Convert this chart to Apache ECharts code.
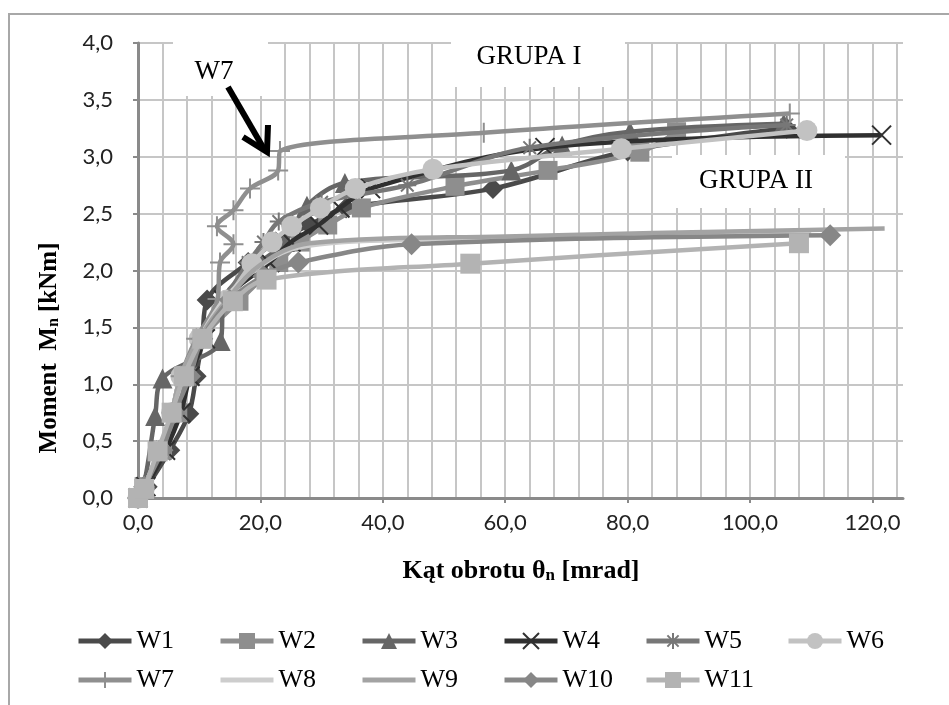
<!DOCTYPE html>
<html>
<head>
<meta charset="utf-8">
<script src="https://cdn.jsdelivr.net/npm/echarts@6/dist/echarts.min.js"></script>
<style>
html,body{margin:0;padding:0;background:#fff;}
#c{width:949px;height:705px;}
</style>
</head>
<body>
<div id="c"></div>
<script>
// ---- data (rotation angle [mrad], moment [kNm]) ----
const xTickLabels = [0, 20, 40, 60, 80, 100, 120];
const W1 = [[0,0],[1.5,0.1],[5.2,0.42],[8.3,0.74],[9.5,1.07],[10.5,1.4],[11.3,1.74],[18,2.07],[22.5,2.25],[28,2.4],[34,2.55],[58,2.72],[80,3.05],[106,3.25]];
const W2 = [[0,0],[1,0.1],[4,0.42],[6.5,0.75],[8,1.07],[10.5,1.4],[16.5,1.73],[23,2.07],[26.5,2.25],[31,2.4],[36.5,2.55],[51.8,2.74],[67,2.88],[82,3.04],[88,3.22]];
const W3 = [[0,0],[1,0.12],[2.8,0.72],[4,1.05],[13.5,1.38],[14,1.74],[20,2.07],[24,2.25],[27.6,2.57],[33.8,2.77],[61,2.88],[69.3,3.1],[80.4,3.22],[105.5,3.29]];
const W4 = [[0,0],[1.3,0.1],[4.5,0.42],[7,0.75],[8.5,1.07],[11,1.4],[14,1.74],[21.5,2.07],[25,2.25],[29.5,2.4],[33,2.55],[38,2.72],[66.5,3.08],[121.5,3.19]];
const W5 = [[0,0],[1,0.1],[3.5,0.42],[5.5,0.75],[7,1.07],[10,1.4],[14,1.74],[18,2.07],[20.5,2.25],[23,2.43],[30,2.6],[44,2.75],[64,3.08],[106,3.28]];
const W6 = [[0,0],[1,0.08],[3.5,0.42],[5.5,0.75],[7,1.07],[10,1.4],[14.5,1.74],[18.6,2.06],[21.9,2.25],[25.1,2.39],[29.8,2.55],[35.5,2.72],[48.2,2.89],[79,3.07],[109.3,3.23]];
const W7 = [[0,0],[1,0.1],[3.5,0.42],[5.5,0.75],[7,1.07],[9.5,1.4],[13,1.75],[13.4,2.07],[15.6,2.23],[12.9,2.39],[15.6,2.53],[18.3,2.72],[22.9,2.88],[23.2,3.05],[56.5,3.21],[106.5,3.38]];
const W8 = [[0,0],[1,0.1],[3.5,0.42],[5.5,0.75],[7,1.07],[10,1.4],[14,1.74],[19,2.0],[26,2.2],[45,2.27],[110,2.33]];
const W9 = [[0,0],[1,0.1],[3.5,0.42],[5.5,0.75],[7,1.07],[10,1.4],[14.5,1.74],[20,2.05],[28,2.24],[60,2.3],[122,2.37]];
const W10 = [[0,0],[1,0.1],[4,0.42],[6,0.75],[8.5,1.07],[10.5,1.4],[15,1.74],[20.5,1.95],[26.2,2.07],[44.7,2.23],[113.1,2.31]];
const W11 = [[0,0],[1,0.08],[3.2,0.41],[5.5,0.75],[7.5,1.07],[10.5,1.4],[15.5,1.73],[21,1.92],[54.3,2.06],[108,2.24]];

const seriesNames = ['W1','W2','W3','W4','W5','W6','W7','W8','W9','W10','W11'];
const seriesData = [W1,W2,W3,W4,W5,W6,W7,W8,W9,W10,W11];

// ---- styles ----
const colors = ['#4a4a4a','#8e8e8e','#666666','#303030','#777777','#c2c2c2','#8f8f8f','#cdcdcd','#a3a3a3','#878787','#b3b3b3'];
const SYM_X = 'path://M0,0L10,10M10,0L0,10';
const SYM_STAR = 'path://M0,5L10,5M5,0L5,10M1.5,1.5L8.5,8.5M8.5,1.5L1.5,8.5';
const SYM_PLUS = 'path://M0,5L10,5M5,0L5,10';
const symbols = ['diamond','rect','triangle',SYM_X,SYM_STAR,'circle',SYM_PLUS,'circle','circle','diamond','rect'];
const hasMarker = [true,true,true,true,true,true,true,false,false,true,true];
const symSizes = [21,19,20,19,18,21,20,0,0,22,20];

const comma = v => v.toFixed(1).replace('.', ',');
const serif = 'Liberation Serif';

const chart = echarts.init(document.getElementById('c'), null, {renderer:'canvas'});

const series = seriesNames.map((n,i) => {
  const stroke = symbols[i].indexOf('path://') === 0;
  return {
    name: n, type: 'line', xAxisIndex: 0, yAxisIndex: 0,
    data: seriesData[i], smooth: 0.35,
    symbol: symbols[i], symbolSize: symSizes[i], showSymbol: hasMarker[i],
    lineStyle: {width: 4.5, color: colors[i]},
    itemStyle: stroke ? {color: colors[i], borderColor: colors[i], borderWidth: 2} : {color: colors[i]},
    emphasis: {disabled: true},
    z: 3 + i
  };
});

const legends = seriesNames.map((n,i) => {
  const row = i < 6 ? 0 : 1;
  const col = i < 6 ? i : i - 6;
  return {
    left: 71 + col * 142, top: row === 0 ? 623 : 662,
    itemWidth: 53, itemHeight: 20, itemGap: 0,
    textStyle: {fontFamily: serif, fontSize: 26, color: '#000'},
    lineStyle: {width: 5},
    selectedMode: false,
    data: [hasMarker[i] ? {name: n} : {name: n, itemStyle: {opacity: 0}}]
  };
});

const option = {
  animation: false,
  backgroundColor: '#fff',
  grid: [
    {left: 138, right: 46, top: 43, bottom: 207, containLabel: false},
    {left: 138, right: 52.1, top: 43, bottom: 207, containLabel: false}
  ],
  xAxis: [
    {
      type: 'value', gridIndex: 0, min: 0, max: 125, interval: 20,
      axisLine: {show: true, lineStyle: {color: '#8a8a8a', width: 3}},
      axisTick: {show: true, length: 5, lineStyle: {color: '#8a8a8a', width: 2}, customValues: xTickLabels},
      axisLabel: {show: true, margin: 14, formatter: comma, fontFamily: 'Lato', fontSize: 22, color: '#222', customValues: xTickLabels},
      splitLine: {show: false}
    },
    {
      type: 'value', gridIndex: 1, min: 0, max: 124, interval: 4,
      axisLine: {show: false}, axisTick: {show: false}, axisLabel: {show: false},
      splitLine: {show: true, lineStyle: {color: '#c6c6c6', width: 2}}
    }
  ],
  yAxis: [
    {
      type: 'value', gridIndex: 0, min: 0, max: 4, interval: 0.5,
      axisLine: {show: true, lineStyle: {color: '#8a8a8a', width: 3}},
      axisTick: {show: true, length: 5, lineStyle: {color: '#8a8a8a', width: 2}},
      axisLabel: {margin: 25, formatter: comma, fontFamily: 'Lato', fontSize: 22, color: '#222'},
      splitLine: {show: true, lineStyle: {color: '#c6c6c6', width: 2}}
    },
    {
      type: 'value', gridIndex: 1, min: 0, max: 4, show: false
    }
  ],
  legend: legends,
  series: series,
  graphic: [
    // chart area border
    {type: 'rect', shape: {x: 9, y: 14, width: 1000, height: 800}, style: {fill: 'none', stroke: '#a8a8a8', lineWidth: 2}, z: 100, silent: true},
    // white label boxes
    {type: 'rect', shape: {x: 173, y: 40, width: 95, height: 56}, style: {fill: '#fff'}, z: 100, silent: true},
    {type: 'rect', shape: {x: 451, y: 40, width: 174, height: 47}, style: {fill: '#fff'}, z: 100, silent: true},
    {type: 'rect', shape: {x: 672, y: 155, width: 173, height: 53}, style: {fill: '#fff'}, z: 100, silent: true},
    {type: 'text', x: 214, y: 72, style: {text: 'W7', fontFamily: serif, fontSize: 27, fill: '#000', align: 'center', verticalAlign: 'middle'}, z: 101},
    {type: 'text', x: 529, y: 57, style: {text: 'GRUPA I', fontFamily: serif, fontSize: 27, fill: '#000', align: 'center', verticalAlign: 'middle'}, z: 101},
    {type: 'text', x: 756, y: 181, style: {text: 'GRUPA II', fontFamily: serif, fontSize: 27, fill: '#000', align: 'center', verticalAlign: 'middle'}, z: 101},
    // arrow
    {type: 'line', shape: {x1: 228, y1: 87, x2: 264, y2: 149}, style: {stroke: '#000', lineWidth: 6}, z: 101},
    {type: 'polyline', shape: {points: [[243, 137], [267, 152], [268, 125]]}, style: {stroke: '#000', lineWidth: 6, fill: 'none', lineJoin: 'miter'}, z: 101},
    // axis titles
    {type: 'text', x: 47, y: 348, rotation: Math.PI / 2,
      style: {text: '{b|Moment  M}{s|n}{b| [kNm]}', align: 'center', verticalAlign: 'middle',
        rich: {b: {fontFamily: serif, fontWeight: 'bold', fontSize: 25, fill: '#000', verticalAlign: 'bottom', lineHeight: 30},
               s: {fontFamily: serif, fontWeight: 'bold', fontSize: 16, fill: '#000', verticalAlign: 'bottom', lineHeight: 26}}}, z: 101},
    {type: 'text', x: 521, y: 569,
      style: {text: '{b|Kąt obrotu θ}{s|n}{b| [mrad]}', align: 'center', verticalAlign: 'middle',
        rich: {b: {fontFamily: serif, fontWeight: 'bold', fontSize: 26, fill: '#000', verticalAlign: 'bottom', lineHeight: 30},
               s: {fontFamily: serif, fontWeight: 'bold', fontSize: 17, fill: '#000', verticalAlign: 'bottom', lineHeight: 26}}}, z: 101}
  ]
};
chart.setOption(option);
</script>
</body>
</html>
